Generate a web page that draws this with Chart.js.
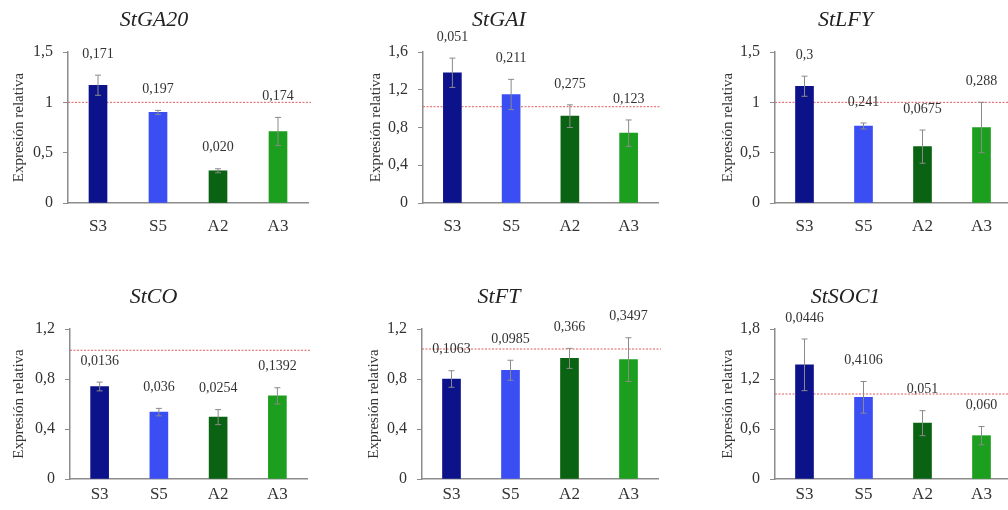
<!DOCTYPE html>
<html>
<head>
<meta charset="utf-8">
<script src="https://cdn.jsdelivr.net/npm/chart.js@4"></script>
<style>
  body { margin: 0; background: #fff; width: 1008px; height: 510px; overflow: hidden; position: relative; }
  canvas { position: absolute; }
</style>
</head>
<body>
<canvas id="c0"></canvas>
<canvas id="c1"></canvas>
<canvas id="c2"></canvas>
<canvas id="c3"></canvas>
<canvas id="c4"></canvas>
<canvas id="c5"></canvas>
<script>
// Дані
const categories = ['S3', 'S5', 'A2', 'A3'];
const genes = ['StGA20', 'StGAI', 'StLFY', 'StCO', 'StFT', 'StSOC1'];

const ga20Values = [1.17, 0.90, 0.32, 0.71];
const ga20Errors = [0.10, 0.02, 0.02, 0.14];
const ga20Pvalues = ['0,171', '0,197', '0,020', '0,174'];

const gaiValues = [1.38, 1.15, 0.92, 0.74];
const gaiErrors = [0.155, 0.16, 0.12, 0.14];
const gaiPvalues = ['0,051', '0,211', '0,275', '0,123'];

const lfyValues = [1.16, 0.765, 0.56, 0.75];
const lfyErrors = [0.10, 0.03, 0.165, 0.25];
const lfyPvalues = ['0,3', '0,241', '0,0675', '0,288'];

const coValues = [0.74, 0.535, 0.495, 0.665];
const coErrors = [0.035, 0.03, 0.06, 0.065];
const coPvalues = ['0,0136', '0,036', '0,0254', '0,1392'];

const ftValues = [0.80, 0.87, 0.965, 0.955];
const ftErrors = [0.066, 0.08, 0.08, 0.175];
const ftPvalues = ['0,1063', '0,0985', '0,366', '0,3497'];

const soc1Values = [1.37, 0.98, 0.67, 0.52];
const soc1Errors = [0.31, 0.19, 0.15, 0.11];
const soc1Pvalues = ['0,0446', '0,4106', '0,051', '0,060'];

const yMax = [1.5, 1.6, 1.5, 1.2, 1.2, 1.8];
const yStep = [0.5, 0.4, 0.5, 0.4, 0.4, 0.6];
const refLine = [1, 1.02, 1, 1.03, 1.04, 1.02];

const allValues = [ga20Values, gaiValues, lfyValues, coValues, ftValues, soc1Values];
const allErrors = [ga20Errors, gaiErrors, lfyErrors, coErrors, ftErrors, soc1Errors];
const allPvalues = [ga20Pvalues, gaiPvalues, lfyPvalues, coPvalues, ftPvalues, soc1Pvalues];

const barColors = ['#0b128a', '#3a4ef4', '#0a6312', '#1c9e1f'];

// Розміщення панелей на сторінці
const panels = [
    { left: 0,   top: 0,   width: 314, height: 250, axisW: 68, padR: 6,  titlePadT: 7,  xPad: 13, yTitlePad: 10 },
    { left: 340, top: 0,   width: 346, height: 250, axisW: 83, padR: 28, titlePadT: 7,  xPad: 13, yTitlePad: 27 },
    { left: 680, top: 0,   width: 366, height: 250, axisW: 95, padR: 35, titlePadT: 7,  xPad: 13, yTitlePad: 39 },
    { left: 0,   top: 250, width: 314, height: 260, axisW: 70, padR: 7,  titlePadT: 34, xPad: 5,  yTitlePad: 10 },
    { left: 340, top: 250, width: 344, height: 260, axisW: 82, padR: 26, titlePadT: 34, xPad: 5,  yTitlePad: 25 },
    { left: 680, top: 250, width: 370, height: 260, axisW: 95, padR: 39, titlePadT: 34, xPad: 5,  yTitlePad: 39 }
];

const serif = "'Liberation Serif', 'Times New Roman', serif";

// Плагін: лінія 1, планки похибок і підписи p-значень
const extrasPlugin = {
    id: 'extras',
    beforeDatasetsDraw(chart) {
        const ctx = chart.ctx;
        const area = chart.chartArea;
        const y = chart.scales.y.getPixelForValue(chart.options.plugins.extras.ref);
        ctx.save();
        ctx.strokeStyle = '#e05a5a';
        ctx.lineWidth = 1;
        ctx.setLineDash([2, 1.5]);
        ctx.beginPath();
        ctx.moveTo(area.left, y);
        ctx.lineTo(area.right + 3, y);
        ctx.stroke();
        ctx.restore();
    },
    afterDatasetsDraw(chart) {
        const opts = chart.options.plugins.extras;
        const ctx = chart.ctx;
        const meta = chart.getDatasetMeta(0);
        const yScale = chart.scales.y;
        ctx.save();
        meta.data.forEach((bar, i) => {
            const v = chart.data.datasets[0].data[i];
            const e = opts.errors[i];
            const yTop = yScale.getPixelForValue(v + e);
            const yBot = yScale.getPixelForValue(v - e);
            ctx.strokeStyle = '#8a8a8a';
            ctx.lineWidth = 1;
            ctx.beginPath();
            ctx.moveTo(bar.x, yTop);
            ctx.lineTo(bar.x, yBot);
            ctx.moveTo(bar.x - 3, yTop);
            ctx.lineTo(bar.x + 3, yTop);
            ctx.moveTo(bar.x - 3, yBot);
            ctx.lineTo(bar.x + 3, yBot);
            ctx.stroke();

            ctx.fillStyle = '#333';
            ctx.font = '14px ' + serif;
            ctx.textAlign = 'center';
            ctx.textBaseline = 'middle';
            ctx.fillText(opts.labels[i], bar.x, yTop - 21);
        });
        ctx.restore();
    }
};

function makeChart(idx) {
    const p = panels[idx];
    const canvas = document.getElementById('c' + idx);
    canvas.width = p.width;
    canvas.height = p.height;
    canvas.style.left = p.left + 'px';
    canvas.style.top = p.top + 'px';

    return new Chart(canvas.getContext('2d'), {
        type: 'bar',
        data: {
            labels: categories,
            datasets: [{
                data: allValues[idx],
                backgroundColor: barColors,
                borderWidth: 0,
                barThickness: 18
            }]
        },
        options: {
            responsive: false,
            animation: false,
            devicePixelRatio: 1,
            layout: { padding: { left: 0, right: p.padR, top: 0, bottom: 0 } },
            plugins: {
                legend: { display: false },
                tooltip: { enabled: false },
                title: {
                    display: true,
                    text: genes[idx],
                    color: '#222',
                    font: { family: serif, size: 22, style: 'italic', weight: 'normal', lineHeight: 1.2 },
                    padding: { top: p.titlePadT, bottom: 52 - 7 - 26.4 }
                },
                extras: {
                    errors: allErrors[idx],
                    labels: allPvalues[idx],
                    ref: refLine[idx]
                }
            },
            scales: {
                x: {
                    grid: { display: true, drawOnChartArea: false, drawTicks: false },
                    border: { display: true, color: '#8c8c8c', width: 1.5 },
                    ticks: { color: '#333', padding: p.xPad, font: { family: serif, size: 17 } },
                    afterFit: (scale) => { scale.height = p.height - (p.top === 0 ? 203 : 229); }
                },
                y: {
                    min: 0,
                    max: yMax[idx],
                    grid: { display: true, drawOnChartArea: false, drawTicks: true, tickLength: 5, color: '#8c8c8c' },
                    border: { display: true, color: '#8c8c8c', width: 1.5 },
                    ticks: {
                        stepSize: yStep[idx],
                        color: '#333',
                        padding: 10,
                        font: { family: serif, size: 16 },
                        callback: (v) => String(Math.round(v * 10) / 10).replace('.', ',')
                    },
                    title: {
                        display: true,
                        text: 'Expresión relativa',
                        color: '#333',
                        font: { family: serif, size: 15 },
                        padding: { top: p.yTitlePad, bottom: 0 }
                    },
                    afterFit: (scale) => { scale.width = p.axisW; }
                }
            }
        },
        plugins: [extrasPlugin]
    });
}

for (let i = 0; i < 6; i++) {
    makeChart(i);
}
</script>
</body>
</html>
